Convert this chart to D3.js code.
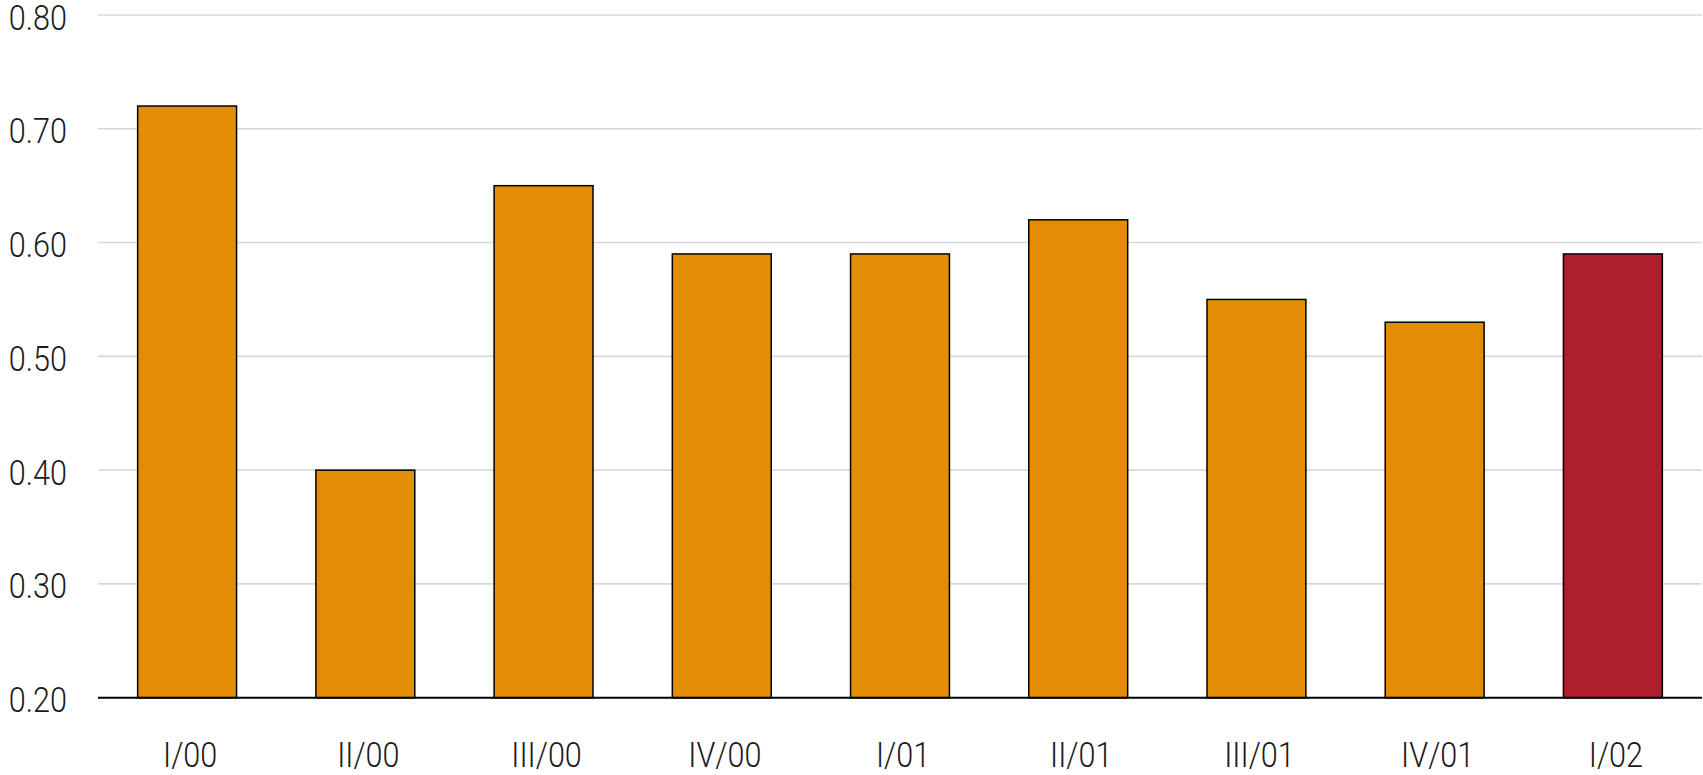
<!DOCTYPE html>
<html>
<head>
<meta charset="utf-8">
<script src="https://cdn.jsdelivr.net/npm/d3@7"></script>
<style>
  html, body { margin: 0; padding: 0; background: #fff; }
  svg text { font-family: Roboto, "Open Sans", sans-serif; font-weight: 300; fill: #1a1a1a; }
</style>
</head>
<body>
<svg id="chart" width="1703" height="775"></svg>
<script>
// Quarterly values
const categories = ["I/00", "II/00", "III/00", "IV/00", "I/01", "II/01", "III/01", "IV/01", "I/02"];
const values = [0.72, 0.40, 0.65, 0.59, 0.59, 0.62, 0.55, 0.53, 0.59];
const yTicks = [0.20, 0.30, 0.40, 0.50, 0.60, 0.70, 0.80];
const highlight = "I/02";

const svg = d3.select("#chart");
const margin = { left: 98, right: 1, top: 15, bottom: 77 };
const W = 1703, H = 775;
const fontSize = 36;
const squeeze = 0.85; // condensed lettering

const x = d3.scaleBand()
  .domain(categories)
  .range([margin.left, W - margin.right])
  .paddingInner(0.445)
  .paddingOuter(0.2225);

const y = d3.scaleLinear()
  .domain([0.20, 0.80])
  .range([H - margin.bottom - 0.3, margin.top]);

// Horizontal gridlines
svg.append("g")
  .selectAll("line")
  .data(yTicks.filter(d => d > 0.2))
  .join("line")
  .attr("x1", margin.left)
  .attr("x2", W - margin.right)
  .attr("y1", d => y(d))
  .attr("y2", d => y(d))
  .attr("stroke", "#d9d9d9")
  .attr("stroke-width", 1.6);

// Y tick labels
svg.append("g")
  .selectAll("text")
  .data(yTicks)
  .join("text")
  .attr("transform", d => `translate(67,${y(d) + 14.5}) scale(${squeeze},1)`)
  .attr("text-anchor", "end")
  .attr("font-size", fontSize)
  .text(d => d.toFixed(2));

// Bars
svg.append("g")
  .selectAll("rect")
  .data(categories.map((c, i) => ({ c, v: values[i] })))
  .join("rect")
  .attr("x", d => x(d.c))
  .attr("y", d => y(d.v))
  .attr("width", x.bandwidth())
  .attr("height", d => y(0.20) - y(d.v))
  .attr("fill", d => d.c === highlight ? "#ae1f2e" : "#e38d07")
  .attr("stroke", "#000")
  .attr("stroke-width", 1.5);

// Baseline
svg.append("line")
  .attr("x1", margin.left)
  .attr("x2", W - margin.right)
  .attr("y1", y(0.20))
  .attr("y2", y(0.20))
  .attr("stroke", "#000")
  .attr("stroke-width", 2);

// Category labels
svg.append("g")
  .selectAll("text")
  .data(categories)
  .join("text")
  .attr("transform", d => `translate(${x(d) + x.bandwidth() / 2 + 3},767) scale(${squeeze},1)`)
  .attr("text-anchor", "middle")
  .attr("font-size", fontSize)
  .text(d => d);
</script>
</body>
</html>
